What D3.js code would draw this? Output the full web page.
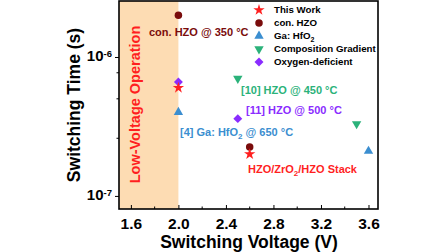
<!DOCTYPE html>
<html>
<head>
<meta charset="utf-8">
<script src="https://cdn.jsdelivr.net/npm/d3@7"></script>
<style>
  body { margin: 0; background: #fff; }
  svg text { font-family: "Liberation Sans", Arial, sans-serif; font-weight: bold; }
</style>
</head>
<body>
<script>
// data
var seriesNames = ["This Work", "con. HZO", "Ga: HfO2", "Composition Gradient", "Oxygen-deficient"];
var seriesColors = ["#ff1f1f", "#7a0c0c", "#3b8ed0", "#2bb27a", "#8a2cff"];
var seriesShapes = ["star", "circle", "triangle", "triangleDown", "diamond"];
var thisWorkV = [2.0, 2.6],   thisWorkT = [6.0e-7, 2.0e-7];
var conHzoV = [2.0, 2.6],     conHzoT = [2.0e-6, 2.25e-7];
var gaHfoV = [2.0, 3.6],      gaHfoT = [4.0e-7, 2.1e-7];
var compGradV = [2.5, 3.5],   compGradT = [7.0e-7, 3.3e-7];
var oxyDefV = [2.0, 2.5],     oxyDefT = [6.6e-7, 3.6e-7];
var xTicks = [1.6, 2.0, 2.4, 2.8, 3.2, 3.6];
var xMinor = [1.8, 2.2, 2.6, 3.0, 3.4];
var yTicks = [1e-6, 1e-7];
var yMinor = [7.7e-7, 5e-7, 2.6e-7];
var lowVoltEdge = 2.0;

var width = 448, height = 252;
var margin = {left: 119, right: 70, top: 1, bottom: 43};

var svg = d3.select("body").append("svg")
    .attr("width", width)
    .attr("height", height);

var x = d3.scaleLinear().domain([1.5, 3.68]).range([margin.left, width - margin.right]);
var y = d3.scaleLog().domain([8.05e-8, 2.53e-6]).range([height - margin.bottom, margin.top]);

// shaded low-voltage band
svg.append("rect")
    .attr("x", x(1.5))
    .attr("y", y.range()[1])
    .attr("width", x(lowVoltEdge) - x(1.5))
    .attr("height", y.range()[0] - y.range()[1])
    .style("fill", "#fddcb3");

svg.append("text")
    .attr("transform", "translate(140,104.5) rotate(-90)")
    .attr("text-anchor", "middle")
    .style("font-size", "14.5px")
    .style("fill", "#ff1f1f")
    .text("Low-Voltage Operation");

// axes
var xAxis = d3.axisBottom(x).tickValues(xTicks).tickFormat(d3.format(".1f")).tickSizeInner(-4).tickSizeOuter(0);
var gx = svg.append("g")
    .attr("transform", "translate(0," + y.range()[0] + ")")
    .call(xAxis);
gx.select(".domain").remove();
gx.selectAll("text").attr("y", 19.5).attr("dy", null).style("font-size", "15.5px").style("fill", "#000");
gx.selectAll(".minor").data(xMinor).enter().append("line")
    .attr("class", "minor")
    .attr("x1", function(d) { return x(d); })
    .attr("x2", function(d) { return x(d); })
    .attr("y1", 0).attr("y2", -2.5)
    .style("stroke", "#000");

var yAxis = d3.axisLeft(y).tickValues(yTicks).tickFormat("").tickSizeInner(4).tickSizeOuter(0);
var gy = svg.append("g")
    .attr("transform", "translate(" + x.range()[0] + ",0)")
    .call(yAxis);
gy.select(".domain").remove();
gy.selectAll(".tick").append("text")
    .attr("x", -7)
    .attr("y", 4)
    .attr("text-anchor", "end")
    .style("font-size", "15px")
    .style("fill", "#000")
    .each(function(d) {
        var t = d3.select(this);
        t.append("tspan").text("10");
        t.append("tspan").attr("dy", "-0.5em").style("font-size", "9.5px").text(Math.round(Math.log10(d)));
    });
gy.selectAll(".minor").data(yMinor).enter().append("line")
    .attr("class", "minor")
    .attr("y1", function(d) { return y(d); })
    .attr("y2", function(d) { return y(d); })
    .attr("x1", 0).attr("x2", -2.5)
    .style("stroke", "#000");

// frame
svg.append("rect")
    .attr("x", x.range()[0])
    .attr("y", y.range()[1])
    .attr("width", x.range()[1] - x.range()[0])
    .attr("height", y.range()[0] - y.range()[1])
    .style("fill", "none")
    .style("stroke", "#000")
    .style("stroke-width", 1.6);

// axis titles
svg.append("text")
    .attr("x", 249)
    .attr("y", 247.5)
    .attr("text-anchor", "middle")
    .style("font-size", "17.5px")
    .text("Switching Voltage (V)");

svg.append("text")
    .attr("transform", "translate(80,105) rotate(-90)")
    .attr("text-anchor", "middle")
    .style("font-size", "17.5px")
    .text("Switching Time (s)");

// markers
function symbolFor(shape) {
    if (shape == "star") return d3.symbol().type(d3.symbolStar).size(40)();
    if (shape == "circle") return d3.symbol().type(d3.symbolCircle).size(44)();
    if (shape == "diamond") return d3.symbol().type(d3.symbolSquare).size(40)();
    return d3.symbol().type(d3.symbolTriangle).size(38)();
}
function rotFor(shape) {
    if (shape == "triangleDown") return " rotate(180)";
    if (shape == "diamond") return " rotate(45)";
    return "";
}

var allSeries = [
    {v: thisWorkV, t: thisWorkT},
    {v: conHzoV, t: conHzoT},
    {v: gaHfoV, t: gaHfoT},
    {v: compGradV, t: compGradT},
    {v: oxyDefV, t: oxyDefT}
];
// draw order so star sits above the diamond at 2.0 V
var drawOrder = [1, 2, 3, 4, 0];
drawOrder.forEach(function(i) {
    var s = allSeries[i];
    var pts = s.v.map(function(d, j) { return [d, s.t[j]]; });
    svg.selectAll(".pt" + i).data(pts).enter().append("path")
        .attr("class", "pt" + i)
        .attr("d", symbolFor(seriesShapes[i]))
        .attr("transform", function(d) { return "translate(" + x(d[0]) + "," + y(d[1]) + ")" + rotFor(seriesShapes[i]); })
        .style("fill", seriesColors[i]);
});

// legend
var legend = svg.append("g").attr("transform", "translate(259,10)");
var rows = legend.selectAll(".row").data(seriesNames).enter().append("g")
    .attr("transform", function(d, i) { return "translate(0," + (i * 13) + ")"; });
rows.append("path")
    .attr("d", function(d, i) { return symbolFor(seriesShapes[i]); })
    .attr("transform", function(d, i) { return rotFor(seriesShapes[i]); })
    .style("fill", function(d, i) { return seriesColors[i]; });
rows.append("text")
    .attr("x", 15)
    .attr("dy", "0.35em")
    .style("font-size", "9.7px")
    .each(function(d) {
        var t = d3.select(this);
        if (d == "Ga: HfO2") {
            t.append("tspan").text("Ga: HfO");
            t.append("tspan").attr("dy", "0.3em").style("font-size", "7px").text("2");
        } else {
            t.text(d);
        }
    });

// annotations, subscripts shift down and the next part shifts back up
function note(px, py, color, parts) {
    var t = svg.append("text").attr("x", px).attr("y", py).style("font-size", "11px").style("fill", color);
    var shift = 0;
    parts.forEach(function(p) {
        var ts = t.append("tspan").text(p.s);
        if (p.sub) {
            ts.attr("dy", 3).style("font-size", "8px");
            shift = 3;
        } else if (shift) {
            ts.attr("dy", -shift);
            shift = 0;
        }
    });
}
note(149, 35.5, seriesColors[1], [{s: "con. HZO @ 350 °C"}]);
note(241, 94, "#2bb27a", [{s: "[10] HZO @ 450 °C"}]);
note(246, 114, seriesColors[4], [{s: "[11] HZO @ 500 °C"}]);
note(180, 135.5, seriesColors[2], [{s: "[4] Ga: HfO"}, {s: "2", sub: true}, {s: " @ 650 °C"}]);
note(248, 173, seriesColors[0], [{s: "HZO/ZrO"}, {s: "2", sub: true}, {s: "/HZO Stack"}]);
</script>
</body>
</html>
